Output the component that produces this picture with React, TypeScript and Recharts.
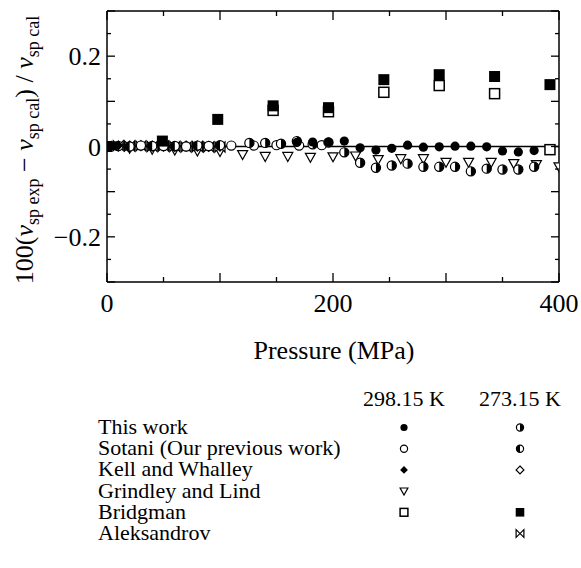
import React from 'react';
import { ScatterChart, Scatter, XAxis, YAxis, ReferenceLine } from 'recharts';

const FONT = '"Liberation Serif", "Times New Roman", serif';

// ---------- data (pressure in MPa, deviation in %) ----------
const thisWork298P = [168, 182, 196, 210, 224, 238, 252, 266, 280, 294, 308, 322, 336, 350, 364, 378];
const thisWork298V = [0.009, 0.01, 0.0095, 0.012, -0.003, -0.008, -0.004, 0.003, -0.0015, -0.0007, 0.0007, 0.0007, -0.0007, -0.01, -0.012, -0.009];

const thisWork273P = [126, 140, 154, 168, 182, 196, 210, 224, 238, 252, 266, 280, 294, 308, 322, 336, 350, 364, 378];
const thisWork273V = [0.008, 0.008, 0.006, 0.012, 0.005, 0.009, -0.013, -0.036, -0.047, -0.042, -0.038, -0.045, -0.045, -0.045, -0.055, -0.049, -0.051, -0.051, -0.045];

const sotani298P = [0.1, 10, 30, 50, 70, 90, 110, 130, 150, 170, 190];
const sotani298V = [0, 0.001, 0.002, 0.001, 0, 0.001, 0.002, 0.002, 0.003, 0.002, 0.003];

const sotani273P = [0.1, 20, 40, 60, 80, 100];
const sotani273V = [0, 0, 0.001, 0.001, 0.002, 0.003];

const kell298P = [0.1, 2, 4, 6, 8, 10];
const kell298V = [0.001, 0.001, 0.002, 0.001, 0.001, 0.002];

const kell273P = [0.1, 10, 20, 30, 40, 50, 60, 70, 80, 90, 100];
const kell273V = [0, 0.001, 0.001, 0.002, 0.001, 0.001, 0, 0.001, 0.001, 0, 0.001];

const grindleyP = [0.1, 20, 40, 60, 80, 100, 120, 140, 160, 180, 200, 220, 240, 260, 280, 300, 320, 340, 360, 380, 400];
const grindleyV = [0, -0.004, -0.006, -0.008, -0.01, -0.011, -0.018, -0.022, -0.022, -0.024, -0.023, -0.021, -0.029, -0.027, -0.027, -0.035, -0.035, -0.035, -0.038, -0.04, -0.045];

const bridgman298P = [147, 196, 245, 294, 343, 392];
const bridgman298V = [0.08, 0.077, 0.12, 0.135, 0.117, -0.007];

const bridgman273P = [0.1, 49, 98, 147, 196, 245, 294, 343, 392];
const bridgman273V = [0, 0.012, 0.06, 0.09, 0.086, 0.148, 0.159, 0.155, 0.137];

const aleksandrovP = [10, 20, 30, 40, 50, 60, 70, 80, 90, 100];
const aleksandrovV = [0.002, 0.001, 0.001, 0, 0.001, 0, -0.001, 0, -0.001, -0.001];

const xTicks = [0, 50, 100, 150, 200, 250, 300, 350, 400];
const xTickLabels = [0, 200, 400];
const yTicks = [-0.3, -0.25, -0.2, -0.15, -0.1, -0.05, 0, 0.05, 0.1, 0.15, 0.2, 0.25, 0.3];
const yTickLabels = [-0.2, 0, 0.2];

const zip = (p: number[], v: number[]) => p.map((x, i) => ({ p: x, v: v[i] }));

// ---------- marker shapes ----------
type Kind =
  | 'filledCircle' | 'openCircle' | 'halfRight' | 'halfLeft'
  | 'filledDiamond' | 'openDiamond' | 'triDown' | 'openSquare'
  | 'filledSquare' | 'bowtie';

function marker(kind: Kind, cx: number, cy: number, s: number, key?: string) {
  const sw = 1.2;
  const r = 4.6 * s;
  switch (kind) {
    case 'filledCircle':
      return <circle key={key} cx={cx} cy={cy} r={r} fill="#000" />;
    case 'openCircle':
      return <circle key={key} cx={cx} cy={cy} r={r} fill="#fff" stroke="#000" strokeWidth={sw} />;
    case 'halfRight':
      return (
        <g key={key}>
          <circle cx={cx} cy={cy} r={r} fill="#fff" stroke="#000" strokeWidth={sw} />
          <path d={`M${cx},${cy - r} A${r},${r} 0 0 1 ${cx},${cy + r} Z`} fill="#000" />
        </g>
      );
    case 'halfLeft':
      return (
        <g key={key}>
          <circle cx={cx} cy={cy} r={r} fill="#fff" stroke="#000" strokeWidth={sw} />
          <path d={`M${cx},${cy - r} A${r},${r} 0 0 0 ${cx},${cy + r} Z`} fill="#000" />
        </g>
      );
    case 'filledDiamond': {
      const d = 5 * s;
      return <path key={key} d={`M${cx},${cy - d}L${cx + d},${cy}L${cx},${cy + d}L${cx - d},${cy}Z`} fill="#000" />;
    }
    case 'openDiamond': {
      const d = 5 * s;
      return <path key={key} d={`M${cx},${cy - d}L${cx + d},${cy}L${cx},${cy + d}L${cx - d},${cy}Z`} fill="#fff" stroke="#000" strokeWidth={sw} />;
    }
    case 'triDown': {
      const w = 5 * s;
      return <path key={key} d={`M${cx - w},${cy - 4 * s}L${cx + w},${cy - 4 * s}L${cx},${cy + 5 * s}Z`} fill="#fff" stroke="#000" strokeWidth={sw} />;
    }
    case 'openSquare': {
      const h = 5 * s;
      return <rect key={key} x={cx - h} y={cy - h} width={2 * h} height={2 * h} fill="#fff" stroke="#000" strokeWidth={1.5} />;
    }
    case 'filledSquare': {
      const h = 5.5 * s;
      return <rect key={key} x={cx - h} y={cy - h} width={2 * h} height={2 * h} fill="#000" />;
    }
    case 'bowtie': {
      const h = 5 * s;
      return <path key={key} d={`M${cx - h},${cy - h}L${cx - h},${cy + h}L${cx + h},${cy - h}L${cx + h},${cy + h}Z`} fill="#fff" stroke="#000" strokeWidth={sw} strokeLinejoin="miter" />;
    }
  }
  return null;
}

const shapeOf = (kind: Kind) => (props: any) => {
  const { cx, cy } = props;
  if (cx == null || cy == null) return <g />;
  return marker(kind, cx, cy, 1);
};

// ---------- ticks ----------
const isMajor = (v: number, step: number) => Math.abs(Math.round(v / step) * step - v) < 1e-9;
const has = (arr: number[], v: number) => arr.some((a) => Math.abs(a - v) < 1e-9);
const fmtY = (v: number) => (Math.abs(v) < 1e-9 ? '0' : v < 0 ? '\u2212' + Math.abs(v).toFixed(1) : v.toFixed(1));

const BottomTick = (props: any) => {
  const { x, y, payload } = props;
  const v = payload.value;
  const len = isMajor(v, 100) ? 9 : 5;
  return (
    <g>
      <line x1={x} y1={y} x2={x} y2={y - len} stroke="#000" strokeWidth={1.3} />
      {has(xTickLabels, v) && (
        <text x={x} y={y + 30} textAnchor="middle" fontFamily={FONT} fontSize={26} fill="#000">
          {String(v)}
        </text>
      )}
    </g>
  );
};

const TopTick = (props: any) => {
  const { x, y, payload } = props;
  const v = payload.value;
  const len = isMajor(v, 100) ? 9 : 5;
  return <line x1={x} y1={y} x2={x} y2={y + len} stroke="#000" strokeWidth={1.3} />;
};

const LeftTick = (props: any) => {
  const { x, y, payload } = props;
  const v = payload.value;
  const len = isMajor(v, 0.1) ? 8 : 4;
  return (
    <g>
      <line x1={x} y1={y} x2={x + len} y2={y} stroke="#000" strokeWidth={1.3} />
      {has(yTickLabels, v) && (
        <text x={x - 6} y={y + 9} textAnchor="end" fontFamily={FONT} fontSize={26} fill="#000">
          {fmtY(v)}
        </text>
      )}
    </g>
  );
};

const RightTick = (props: any) => {
  const { x, y, payload } = props;
  const v = payload.value;
  const len = isMajor(v, 0.1) ? 8 : 4;
  return <line x1={x} y1={y} x2={x - len} y2={y} stroke="#000" strokeWidth={1.3} />;
};

const YTitle = () => {
  const cx = 33;
  const cy = 150;
  const sub = 18;
  return (
    <text
      x={cx}
      y={cy}
      transform={`rotate(-90, ${cx}, ${cy})`}
      textAnchor="middle"
      fontFamily={FONT}
      fontSize={26}
      fill="#000"
    >
      <tspan>100(</tspan>
      <tspan fontStyle="italic">v</tspan>
      <tspan fontSize={sub} dy={6}>sp exp</tspan>
      <tspan dy={-6}>{' \u2212 '}</tspan>
      <tspan fontStyle="italic">v</tspan>
      <tspan fontSize={sub} dy={6}>sp cal</tspan>
      <tspan dy={-6}>{') / '}</tspan>
      <tspan fontStyle="italic">v</tspan>
      <tspan fontSize={sub} dy={6}>sp cal</tspan>
    </text>
  );
};

const XTitle = () => (
  <text x={334} y={359} textAnchor="middle" fontFamily={FONT} fontSize={26} fill="#000">
    Pressure (MPa)
  </text>
);

// ---------- legend ----------
const legendRows: { label: string; a: Kind | null; b: Kind | null }[] = [
  { label: 'This work', a: 'filledCircle', b: 'halfRight' },
  { label: 'Sotani (Our previous work)', a: 'openCircle', b: 'halfLeft' },
  { label: 'Kell and Whalley', a: 'filledDiamond', b: 'openDiamond' },
  { label: 'Grindley and Lind', a: 'triDown', b: null },
  { label: 'Bridgman', a: 'openSquare', b: 'filledSquare' },
  { label: 'Aleksandrov', a: null, b: 'bowtie' },
];
const legendHeaders = ['298.15 K', '273.15 K'];

const LegendTable = () => {
  const top = 380;
  const colA = 404;
  const colB = 520;
  const base0 = 434 - top;
  const step = 21.2;
  return (
    <svg width={581} height={188} style={{ position: 'absolute', left: 0, top }}>
      <text x={colA} y={406 - top} textAnchor="middle" fontFamily={FONT} fontSize={22} fill="#000">
        {legendHeaders[0]}
      </text>
      <text x={colB} y={406 - top} textAnchor="middle" fontFamily={FONT} fontSize={22} fill="#000">
        {legendHeaders[1]}
      </text>
      {legendRows.map((r, i) => {
        const by = base0 + i * step;
        const my = by - 6.5;
        return (
          <g key={r.label}>
            <text x={98} y={by} fontFamily={FONT} fontSize={22} fill="#000">
              {r.label}
            </text>
            {r.a && marker(r.a, colA, my, 0.78, 'a')}
            {r.b && marker(r.b, colB, my, 0.78, 'b')}
          </g>
        );
      })}
    </svg>
  );
};

export default function App() {
  const series: { data: { p: number; v: number }[]; kind: Kind; name: string }[] = [
    { name: 'Bridgman 298.15 K', data: zip(bridgman298P, bridgman298V), kind: 'openSquare' },
    { name: 'Grindley and Lind 298.15 K', data: zip(grindleyP, grindleyV), kind: 'triDown' },
    { name: 'Aleksandrov 273.15 K', data: zip(aleksandrovP, aleksandrovV), kind: 'bowtie' },
    { name: 'Kell and Whalley 273.15 K', data: zip(kell273P, kell273V), kind: 'openDiamond' },
    { name: 'Sotani 298.15 K', data: zip(sotani298P, sotani298V), kind: 'openCircle' },
    { name: 'Sotani 273.15 K', data: zip(sotani273P, sotani273V), kind: 'halfLeft' },
    { name: 'Kell and Whalley 298.15 K', data: zip(kell298P, kell298V), kind: 'filledDiamond' },
    { name: 'This work 273.15 K', data: zip(thisWork273P, thisWork273V), kind: 'halfRight' },
    { name: 'This work 298.15 K', data: zip(thisWork298P, thisWork298V), kind: 'filledCircle' },
    { name: 'Bridgman 273.15 K', data: zip(bridgman273P, bridgman273V), kind: 'filledSquare' },
  ];
  const axisLine = { stroke: '#000', strokeWidth: 1.5 };
  return (
    <div style={{ position: 'absolute', left: 0, top: 0, width: 581, height: 568, background: '#fff' }}>
      <ScatterChart width={581} height={568} margin={{ top: 10, right: 12, left: 47, bottom: 246 }}>
        <XAxis
          xAxisId={0}
          dataKey="p"
          type="number"
          domain={[0, 400]}
          allowDataOverflow
          ticks={xTicks}
          interval={0}
          tickSize={0}
          tickMargin={0}
          tickLine={false}
          tick={<BottomTick />}
          axisLine={axisLine}
          height={40}
          label={<XTitle />}
        />
        <XAxis
          xAxisId="top"
          orientation="top"
          dataKey="p"
          type="number"
          domain={[0, 400]}
          allowDataOverflow
          ticks={xTicks}
          interval={0}
          tickSize={0}
          tickMargin={0}
          tickLine={false}
          tick={<TopTick />}
          axisLine={axisLine}
          height={1}
        />
        <YAxis
          yAxisId={0}
          dataKey="v"
          type="number"
          domain={[-0.3, 0.3]}
          allowDataOverflow
          ticks={yTicks}
          interval={0}
          tickSize={0}
          tickMargin={0}
          tickLine={false}
          tick={<LeftTick />}
          axisLine={axisLine}
          width={60}
          label={<YTitle />}
        />
        <YAxis
          yAxisId="right"
          orientation="right"
          dataKey="v"
          type="number"
          domain={[-0.3, 0.3]}
          allowDataOverflow
          ticks={yTicks}
          interval={0}
          tickSize={0}
          tickMargin={0}
          tickLine={false}
          tick={<RightTick />}
          axisLine={axisLine}
          width={10}
        />
        <ReferenceLine xAxisId={0} yAxisId={0} y={0} stroke="#000" strokeWidth={1.5} />
        <Scatter
          xAxisId="top"
          yAxisId="right"
          data={[{ p: 0, v: 0 }]}
          shape={() => <g />}
          isAnimationActive={false}
        />
        {series.map((s) => (
          <Scatter
            key={s.name}
            name={s.name}
            xAxisId={0}
            yAxisId={0}
            data={s.data}
            shape={shapeOf(s.kind)}
            isAnimationActive={false}
          />
        ))}
      </ScatterChart>
      <LegendTable />
    </div>
  );
}
